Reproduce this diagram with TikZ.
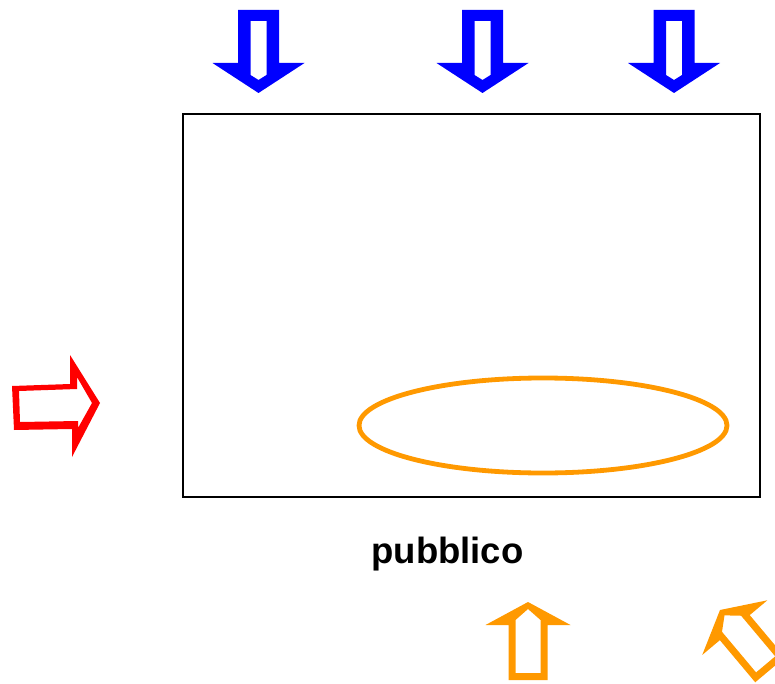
\documentclass[tikz,border=0pt]{standalone}
\usepackage{fontspec}
\setmainfont{Liberation Sans}
\definecolor{arrblue}{RGB}{0,0,255}
\definecolor{arrred}{RGB}{255,0,0}
\definecolor{arrorange}{RGB}{255,153,0}
\tikzset{
  hollowblue/.style={fill=arrblue, even odd rule},
  hollowred/.style={fill=arrred, even odd rule},
  hollowor/.style={fill=arrorange, even odd rule},
  frame/.style={draw=black, line width=1.4pt},
  ring/.style={draw=arrorange, line width=4.8pt},
  lbl/.style={font=\bfseries\fontsize{36.5}{40}\selectfont, anchor=base, inner sep=0pt},
  bluearrow/.pic={
    \path[hollowblue]
      (-20.5,10) -- (20.5,10) -- (20.5,63) -- (46,63) -- (0,93) -- (-46,63) -- (-20.5,63) -- cycle
      (-8,21) -- (8,21) -- (8,75) -- (0,80) -- (-8,75) -- cycle;
  },
  orangearrow/.pic={
    \path[hollowor]
      (0,0) -- (42.5,23) -- (19.5,23) -- (19.5,78) -- (-19.5,78) -- (-19.5,23) -- (-42.5,23) -- cycle
      (0,7) -- (12.5,18) -- (12.5,71) -- (-12.5,71) -- (-12.5,18) -- cycle;
  }
}
\begin{document}
\begin{tikzpicture}[x=1pt,y=-1pt]
\useasboundingbox (0,0) rectangle (775,684);
\clip (0,0) rectangle (775,684);
% frame
\draw[frame] (183,114) rectangle (760,497);
% ellipse
\draw[ring] (543,425.5) ellipse [x radius=184, y radius=47.5];
% blue arrows
\pic at (258.5,0) {bluearrow};
\pic at (482.5,0) {bluearrow};
\pic at (674,0) {bluearrow};
% red arrow
\path[hollowred]
  (12,386) -- (70,384) -- (70,355) -- (100,403) -- (72,457) -- (72,429) -- (14,430) -- cycle
  (19,391) -- (77,389) -- (77,377) -- (92,403) -- (78,428) -- (78,421) -- (20,422) -- cycle;
% orange arrows
\pic at (528,602) {orangearrow};
\pic[rotate=40] at (720,610) {orangearrow};
% label
\node[lbl] (pub) at (447.5,563) {pubblico};
\end{tikzpicture}
\end{document}
